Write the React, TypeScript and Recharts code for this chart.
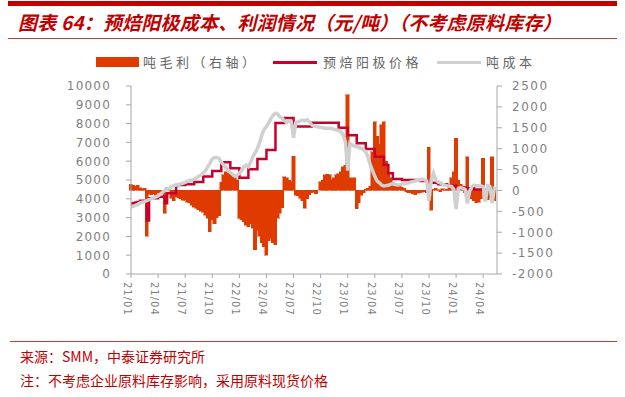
import { ComposedChart, Bar, Line, XAxis, YAxis } from "recharts";

// x position = month index from 2021/01, four readings per month
const tickMonths = [0, 3, 6, 9, 12, 15, 18, 21, 24, 27, 30, 33, 36, 39];
const tickLabels = ["21/01", "21/04", "21/07", "21/10", "22/01", "22/04", "22/07", "22/10", "23/01", "23/04", "23/07", "23/10", "24/01", "24/04"];
const leftTicks = [0, 1000, 2000, 3000, 4000, 5000, 6000, 7000, 8000, 9000, 10000];
const rightTicks = [-2000, -1500, -1000, -500, 0, 500, 1000, 1500, 2000, 2500];

// 预焙阳极价格
const price = [
  3750, 3780, 3800, 3830, 3900, 3900, 3900, 2850, 4030, 4030, 4030, 4030, 4110, 4110, 4110, 3760,
  4300, 4300, 4300, 4300, 4730, 4730, 4730, 4730, 4780, 4780, 4780, 4780, 4900, 4900, 4900, 4900,
  5180, 5180, 5180, 5180, 5480, 5480, 5480, 5480, 5940, 5940, 5940, 5940, 5630, 5630, 5630, 5630,
  5120, 5120, 5120, 5120, 5570, 5570, 5570, 5570, 6120, 6120, 6120, 6120, 6600, 6600, 6600, 6600,
  8030, 8030, 8030, 8030, 8300, 8300, 8300, 8300, 7850, 7850, 7850, 7850, 7850, 7850, 7850, 7850,
  8050, 8050, 8050, 8050, 8050, 8050, 8050, 8050, 8050, 8050, 8050, 8050, 7780, 7780, 7780, 7780,
  7380, 7380, 7380, 7380, 6950, 6950, 6950, 6950, 6650, 6650, 6650, 6650, 6240, 6240, 6240, 6240,
  5800, 5800, 5360, 5360, 5050, 5050, 5050, 5050, 5000, 5000, 5000, 5000, 5000, 5000, 5000, 5000,
  4950, 4950, 4950, 4950, 4850, 4850, 4850, 4850, 4780, 4780, 4780, 4780, 4700, 4700, 4700, 4700,
  4600, 4600, 4600, 4600, 4560, 4560, 4560, 4560, 4500, 4500, 4500, 4500, 4480, 4480, 4480, 4480,
  4450, 4450,
];

// 吨成本
const cost = [
  3580, 3600, 3650, 3700, 3780, 3820, 3850, 3900, 3950, 4000, 4050, 4100, 4150, 4250, 4350, 4450,
  4500, 4550, 4650, 4700, 4730, 4760, 4800, 4830, 4870, 4920, 4960, 5000, 5050, 5120, 5200, 5270,
  5360, 5500, 5710, 5900, 6120, 6200, 6200, 6150, 5950, 5800, 5650, 5530, 5400, 5300, 5200, 5250,
  5360, 5500, 5700, 5800, 5700, 5950, 6240, 6450, 6690, 7000, 7400, 7700, 7840, 8050, 8280, 8460,
  8550, 8500, 8350, 8280, 8150, 8050, 8150, 8100, 7250, 8050, 8100, 8140, 8190, 8150, 8200, 8100,
  7930, 7880, 7840, 7820, 7800, 7780, 7750, 7750, 7750, 7730, 7700, 7660, 7650, 7550, 7400, 7000,
  5500, 6950, 6860, 6800, 6770, 6730, 6690, 6600, 6500, 6200, 5800, 5500, 5200, 4950, 4850, 4730,
  4680, 4700, 4720, 4780, 4800, 4760, 4730, 4740, 4780, 4800, 4830, 4850, 4900, 4920, 4950, 5000,
  5000, 5050, 5000, 4950, 3900, 5000, 5360, 5000, 4900, 4850, 4780, 4730, 4700, 4680, 4650, 4500,
  3450, 4560, 4600, 4550, 4500, 3750, 4400, 4650, 4730, 4700, 4700, 4680, 4650, 3850, 4700, 4650,
  3760, 4650,
];

// 吨毛利（右轴）
const profit = [
  150, 130, 100, 120, 60, 40, 50, -1100, -90, -100, -80, -110, -60, -80, -30, -540,
  60, 50, -190, -250, -150, -180, -200, -230, -230, -280, -300, -350, -400, -430, -460, -500,
  -520, -590, -670, -990, -700, -800, -650, -600, 200, 370, 450, 410, 380, 330, 300, 260,
  -660, -700, -750, -830, -870, -800, -900, -1420, -950, -1100, -1250, -1350, -1550, -1200, -1150, -1250,
  -1300, -660, -550, -420, 330, 300, 250, 210, 820, -110, -130, -190, -250, -430, -200, -100,
  -50, -30, -80, 0, 210, 250, 370, 390, 380, 250, 300, 370, 400, 450, 570, 600,
  2290, 300, 290, 300, -440, -300, -110, -60, 30, 50, 100, 930, 1650, 1300, 1100, 1570,
  1650, 700, 400, 300, 200, 150, 120, 100, 80, 50, -30, -50, -60, -80, -100, -70,
  -50, -40, -30, -60, 1030, -470, 30, 50, 20, -30, 40, 10, 30, 150, 300, 450,
  1250, 250, 150, 100, -50, 810, -150, -200, -250, -300, -280, -200, 770, -200, -220, -180,
  810, -250,
];

const data = price.map((p, i) => ({ t: i / 4, price: p, cost: cost[i], profit: profit[i] }));

const axisGray = "#a6a6a6";
const labelGray = "#7f7f7f";
const barColor = "#df3a00";

const LeftTick = (props: any) => {
  const { x, y, payload } = props;
  return (
    <text x={x} y={y} dy={4.3} textAnchor="end" fontSize={12} fill={labelGray} fontFamily="DejaVu Sans" style={{ letterSpacing: 1.2 }}>
      {payload.value}
    </text>
  );
};

const RightTick = (props: any) => {
  const { x, y, payload } = props;
  return (
    <text x={x} y={y} dy={4.3} textAnchor="start" fontSize={12} fill={labelGray} fontFamily="DejaVu Sans" style={{ letterSpacing: 1.5 }}>
      {payload.value}
    </text>
  );
};

const DateTick = (props: any) => {
  const { x, payload } = props;
  const idx = tickMonths.indexOf(payload.value);
  return (
    <g transform={`translate(${x},282) rotate(90)`}>
      <text x={0} y={0} dy={7.3} textAnchor="start" fontSize={10} fill={labelGray} fontFamily="DejaVu Sans" style={{ letterSpacing: 1 }}>
        {tickLabels[idx]}
      </text>
    </g>
  );
};

// bars sit edge to edge: draw each one from its own centre, slightly wider than its slot
const ProfitBar = (props: any) => {
  const { x, y, width, height } = props;
  if (x == null || y == null || !height) return null;
  const cx = x + (width || 0) / 2;
  const top = Math.min(y, y + height);
  return (
    <rect
      x={cx - 1.6}
      y={top}
      width={3.2}
      height={Math.abs(height)}
      fill={barColor}
      stroke={barColor}
      strokeWidth={0.5}
      shapeRendering="crispEdges"
    />
  );
};

const red = "#c00000";

export default function App() {
  return (
    <div
      style={{
        position: "absolute",
        left: 0,
        top: 0,
        width: 625,
        height: 397,
        background: "#fff",
        fontFamily: '"Noto Sans CJK SC", sans-serif',
        overflow: "hidden",
      }}
    >
      <div style={{ position: "absolute", left: 8, top: 1, width: 609, height: 5, background: red }} />
      <div
        style={{
          position: "absolute",
          left: 18,
          top: 9,
          fontSize: 19,
          lineHeight: "26px",
          fontWeight: "bold",
          fontStyle: "italic",
          color: red,
          whiteSpace: "nowrap",
          letterSpacing: 0.2,
        }}
      >
        图表 64：预焙阳极成本、利润情况（元/吨）（不考虑原料库存）
      </div>
      <div style={{ position: "absolute", left: 8, top: 38, width: 609, height: 1, background: "#c83c3c" }} />

      {/* legend */}
      <div style={{ position: "absolute", left: 96, top: 57, width: 43, height: 10, background: barColor }} />
      <div style={legendText(143)}>吨毛利（右轴）</div>
      <div style={{ position: "absolute", left: 273, top: 61, width: 44, height: 3, background: "#c8002d" }} />
      <div style={legendText(323)}>预焙阳极价格</div>
      <div style={{ position: "absolute", left: 437, top: 61, width: 44, height: 3, background: "#d0d0d0" }} />
      <div style={legendText(486)}>吨成本</div>

      <div style={{ position: "absolute", left: 0, top: 0 }}>
        <ComposedChart width={625} height={397} data={data} margin={{ top: 86, right: 68, left: 71, bottom: 83 }} barCategoryGap={0} barGap={0}>
          <XAxis
            dataKey="t"
            type="number"
            domain={[0, 40.53]}
            ticks={tickMonths}
            interval={0}
            height={40}
            tick={<DateTick />}
            tickSize={4}
            axisLine={{ stroke: axisGray }}
            tickLine={{ stroke: axisGray }}
          />
          <YAxis
            yAxisId="left"
            orientation="left"
            domain={[0, 10000]}
            ticks={leftTicks}
            interval={0}
            width={60}
            tick={<LeftTick />}
            tickSize={5}
            tickMargin={15}
            axisLine={{ stroke: axisGray }}
            tickLine={{ stroke: axisGray }}
          />
          <YAxis
            yAxisId="right"
            orientation="right"
            domain={[-2000, 2500]}
            ticks={rightTicks}
            interval={0}
            width={60}
            tick={<RightTick />}
            tickSize={5}
            tickMargin={10}
            axisLine={{ stroke: axisGray }}
            tickLine={{ stroke: axisGray }}
          />
          <Bar yAxisId="right" dataKey="profit" fill={barColor} shape={ProfitBar} isAnimationActive={false} />
          <Line yAxisId="left" type="stepAfter" dataKey="price" stroke="#c8002d" strokeWidth={2.5} dot={false} isAnimationActive={false} />
          <Line yAxisId="left" type="linear" dataKey="cost" stroke="#d0d0d0" strokeWidth={3.5} dot={false} isAnimationActive={false} />
        </ComposedChart>
      </div>

      <div style={{ position: "absolute", left: 10, top: 341, width: 607, height: 1, background: "#c83c3c" }} />
      <div style={{ position: "absolute", left: 20, top: 344, fontSize: 14, lineHeight: "24px", color: red, whiteSpace: "nowrap" }}>
        来源：SMM，中泰证券研究所
      </div>
      <div style={{ position: "absolute", left: 20, top: 368, fontSize: 14, lineHeight: "24px", color: red, whiteSpace: "nowrap" }}>
        注：不考虑企业原料库存影响，采用原料现货价格
      </div>
    </div>
  );
}

function legendText(left: number): React.CSSProperties {
  return {
    position: "absolute",
    left,
    top: 53,
    fontSize: 13,
    lineHeight: "18px",
    letterSpacing: 3.5,
    color: "#666",
    whiteSpace: "nowrap",
  };
}
